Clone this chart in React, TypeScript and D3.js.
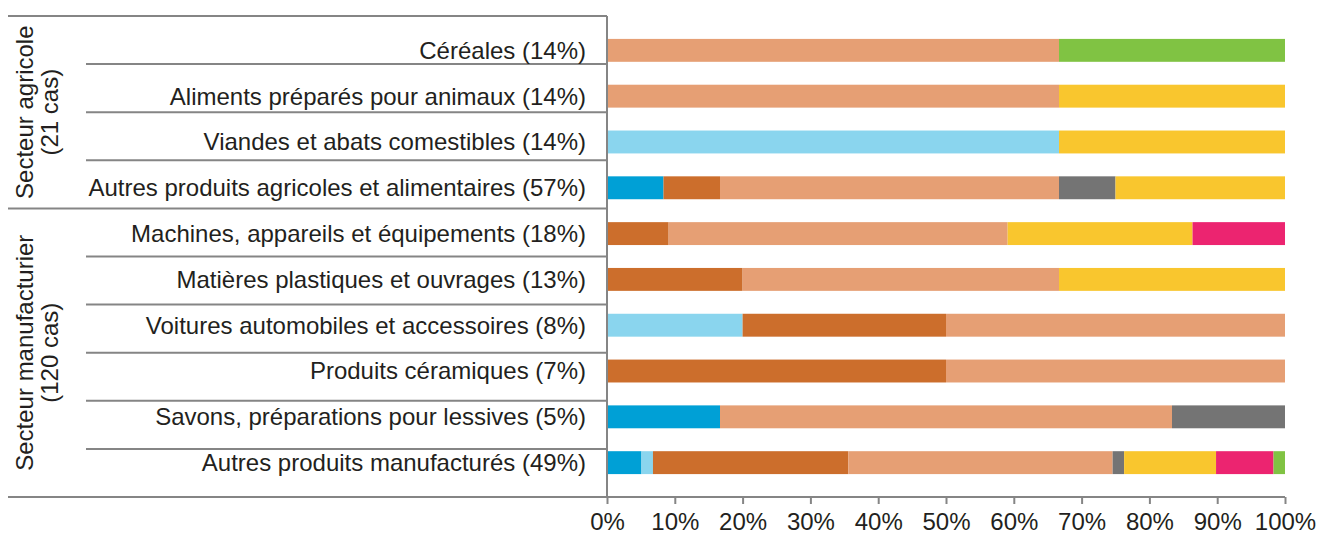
import { useEffect, useRef } from "react";
import * as d3 from "d3";

const W = 1317, H = 535;
const X0 = 607, X1 = 1285, TOP = 16, ROW = 48.1;
const FONT = "'Liberation Sans', Arial, Helvetica, sans-serif";
const INK = "#231f20";
const RULE = "#858585";

// row labels, top to bottom
const categories = [
  "Céréales (14%)",
  "Aliments préparés pour animaux (14%)",
  "Viandes et abats comestibles (14%)",
  "Autres produits agricoles et alimentaires (57%)",
  "Machines, appareils et équipements (18%)",
  "Matières plastiques et ouvrages (13%)",
  "Voitures automobiles et accessoires (8%)",
  "Produits céramiques (7%)",
  "Savons, préparations pour lessives (5%)",
  "Autres produits manufacturés (49%)",
];

// groups of rows (label lines, first row index, row count)
const groups = [
  { lines: ["Secteur agricole", "(21 cas)"], start: 0, count: 4 },
  { lines: ["Secteur manufacturier", "(120 cas)"], start: 4, count: 6 },
];

// number of cases per series, one value per row
const blue = [0, 0, 0, 1, 0, 0, 0, 0, 1, 3];
const lightBlue = [0, 0, 2, 0, 0, 0, 2, 0, 0, 1];
const darkOrange = [0, 0, 0, 1, 2, 3, 3, 1, 0, 17];
const lightOrange = [2, 2, 0, 6, 11, 7, 5, 1, 4, 23];
const grey = [0, 0, 0, 1, 0, 0, 0, 0, 1, 1];
const yellow = [0, 1, 1, 3, 6, 5, 0, 0, 0, 8];
const pink = [0, 0, 0, 0, 3, 0, 0, 0, 0, 5];
const green = [1, 0, 0, 0, 0, 0, 0, 0, 0, 1];

const seriesKeys = ["blue", "lightBlue", "darkOrange", "lightOrange", "grey", "yellow", "pink", "green"];
const seriesValues = [blue, lightBlue, darkOrange, lightOrange, grey, yellow, pink, green];
const seriesColors = ["#00a0d6", "#8ad5ee", "#cc6e2c", "#e69f74", "#747474", "#f9c62e", "#ec2470", "#80c343"];

const xTicks = [0, 0.1, 0.2, 0.3, 0.4, 0.5, 0.6, 0.7, 0.8, 0.9, 1];

export default function App() {
  const svgRef = useRef<SVGSVGElement>(null);

  useEffect(() => {
    const svg = d3.select(svgRef.current);
    svg.selectAll("*").remove();

    const rows = categories.map((c, i) => {
      const r: any = { cat: c };
      seriesKeys.forEach((k, j) => (r[k] = seriesValues[j][i]));
      return r;
    });
    const stacked = d3.stack().keys(seriesKeys).offset(d3.stackOffsetExpand)(rows);

    const x = d3.scaleLinear().domain([0, 1]).range([X0, X1]);
    const y = d3.scaleBand().domain(categories).range([TOP, TOP + ROW * categories.length]).padding(0.5);
    const color = d3.scaleOrdinal<string>().domain(seriesKeys).range(seriesColors);

    // bars
    svg.append("g").selectAll("g").data(stacked).join("g")
      .attr("fill", d => color(d.key))
      .selectAll("rect").data(d => d.map((v, i) => ({ v, cat: categories[i] }))).join("rect")
      .attr("x", d => x(d.v[0]))
      .attr("width", d => Math.max(0, x(d.v[1]) - x(d.v[0])))
      .attr("y", d => y(d.cat)!)
      .attr("height", y.bandwidth());

    const rowTop = (i: number) => TOP + ROW * i;
    const bottom = rowTop(categories.length);

    // row rules on the left table
    const groupEdges = new Set<number>();
    groups.forEach(g => { groupEdges.add(g.start); groupEdges.add(g.start + g.count); });
    for (let i = 0; i <= categories.length; i++) {
      const isGroup = groupEdges.has(i);
      svg.append("line")
        .attr("x1", isGroup ? 8 : 86).attr("x2", i === categories.length ? X1 : X0)
        .attr("y1", rowTop(i)).attr("y2", rowTop(i))
        .attr("stroke", RULE).attr("stroke-width", 2);
    }
    svg.append("line").attr("x1", X0).attr("x2", X0).attr("y1", TOP).attr("y2", bottom)
      .attr("stroke", RULE).attr("stroke-width", 2);

    // row labels
    svg.append("g").selectAll("text").data(categories).join("text")
      .attr("x", 586).attr("y", d => y(d)! + y.bandwidth() / 2)
      .attr("dy", "0.35em").attr("text-anchor", "end")
      .attr("font-family", FONT).attr("font-size", 24).attr("fill", INK)
      .text(d => d);

    // group labels (rotated)
    groups.forEach(g => {
      const cy = rowTop(g.start) + (ROW * g.count) / 2;
      const t = svg.append("text")
        .attr("transform", `translate(0,${cy}) rotate(-90)`)
        .attr("text-anchor", "middle")
        .attr("font-family", FONT).attr("font-size", 24).attr("fill", INK);
      g.lines.forEach((ln, k) => {
        t.append("tspan").attr("x", 0).attr("y", 33 + k * 25).text(ln);
      });
    });

    // x axis
    const ax = svg.append("g").attr("transform", `translate(0,${bottom})`)
      .call(d3.axisBottom(x).tickValues(xTicks).tickFormat(d3.format(".0%")).tickSize(7).tickPadding(9));
    ax.select(".domain").remove();
    ax.selectAll(".tick line").attr("stroke", RULE).attr("stroke-width", 2);
    ax.selectAll(".tick text").attr("font-family", FONT).attr("font-size", 24).attr("fill", INK);
  }, []);

  return (
    <div>
      <style>{`body{margin:0;background:#fff}`}</style>
      <svg ref={svgRef} width={W} height={H} style={{ display: "block" }} />
    </div>
  );
}
